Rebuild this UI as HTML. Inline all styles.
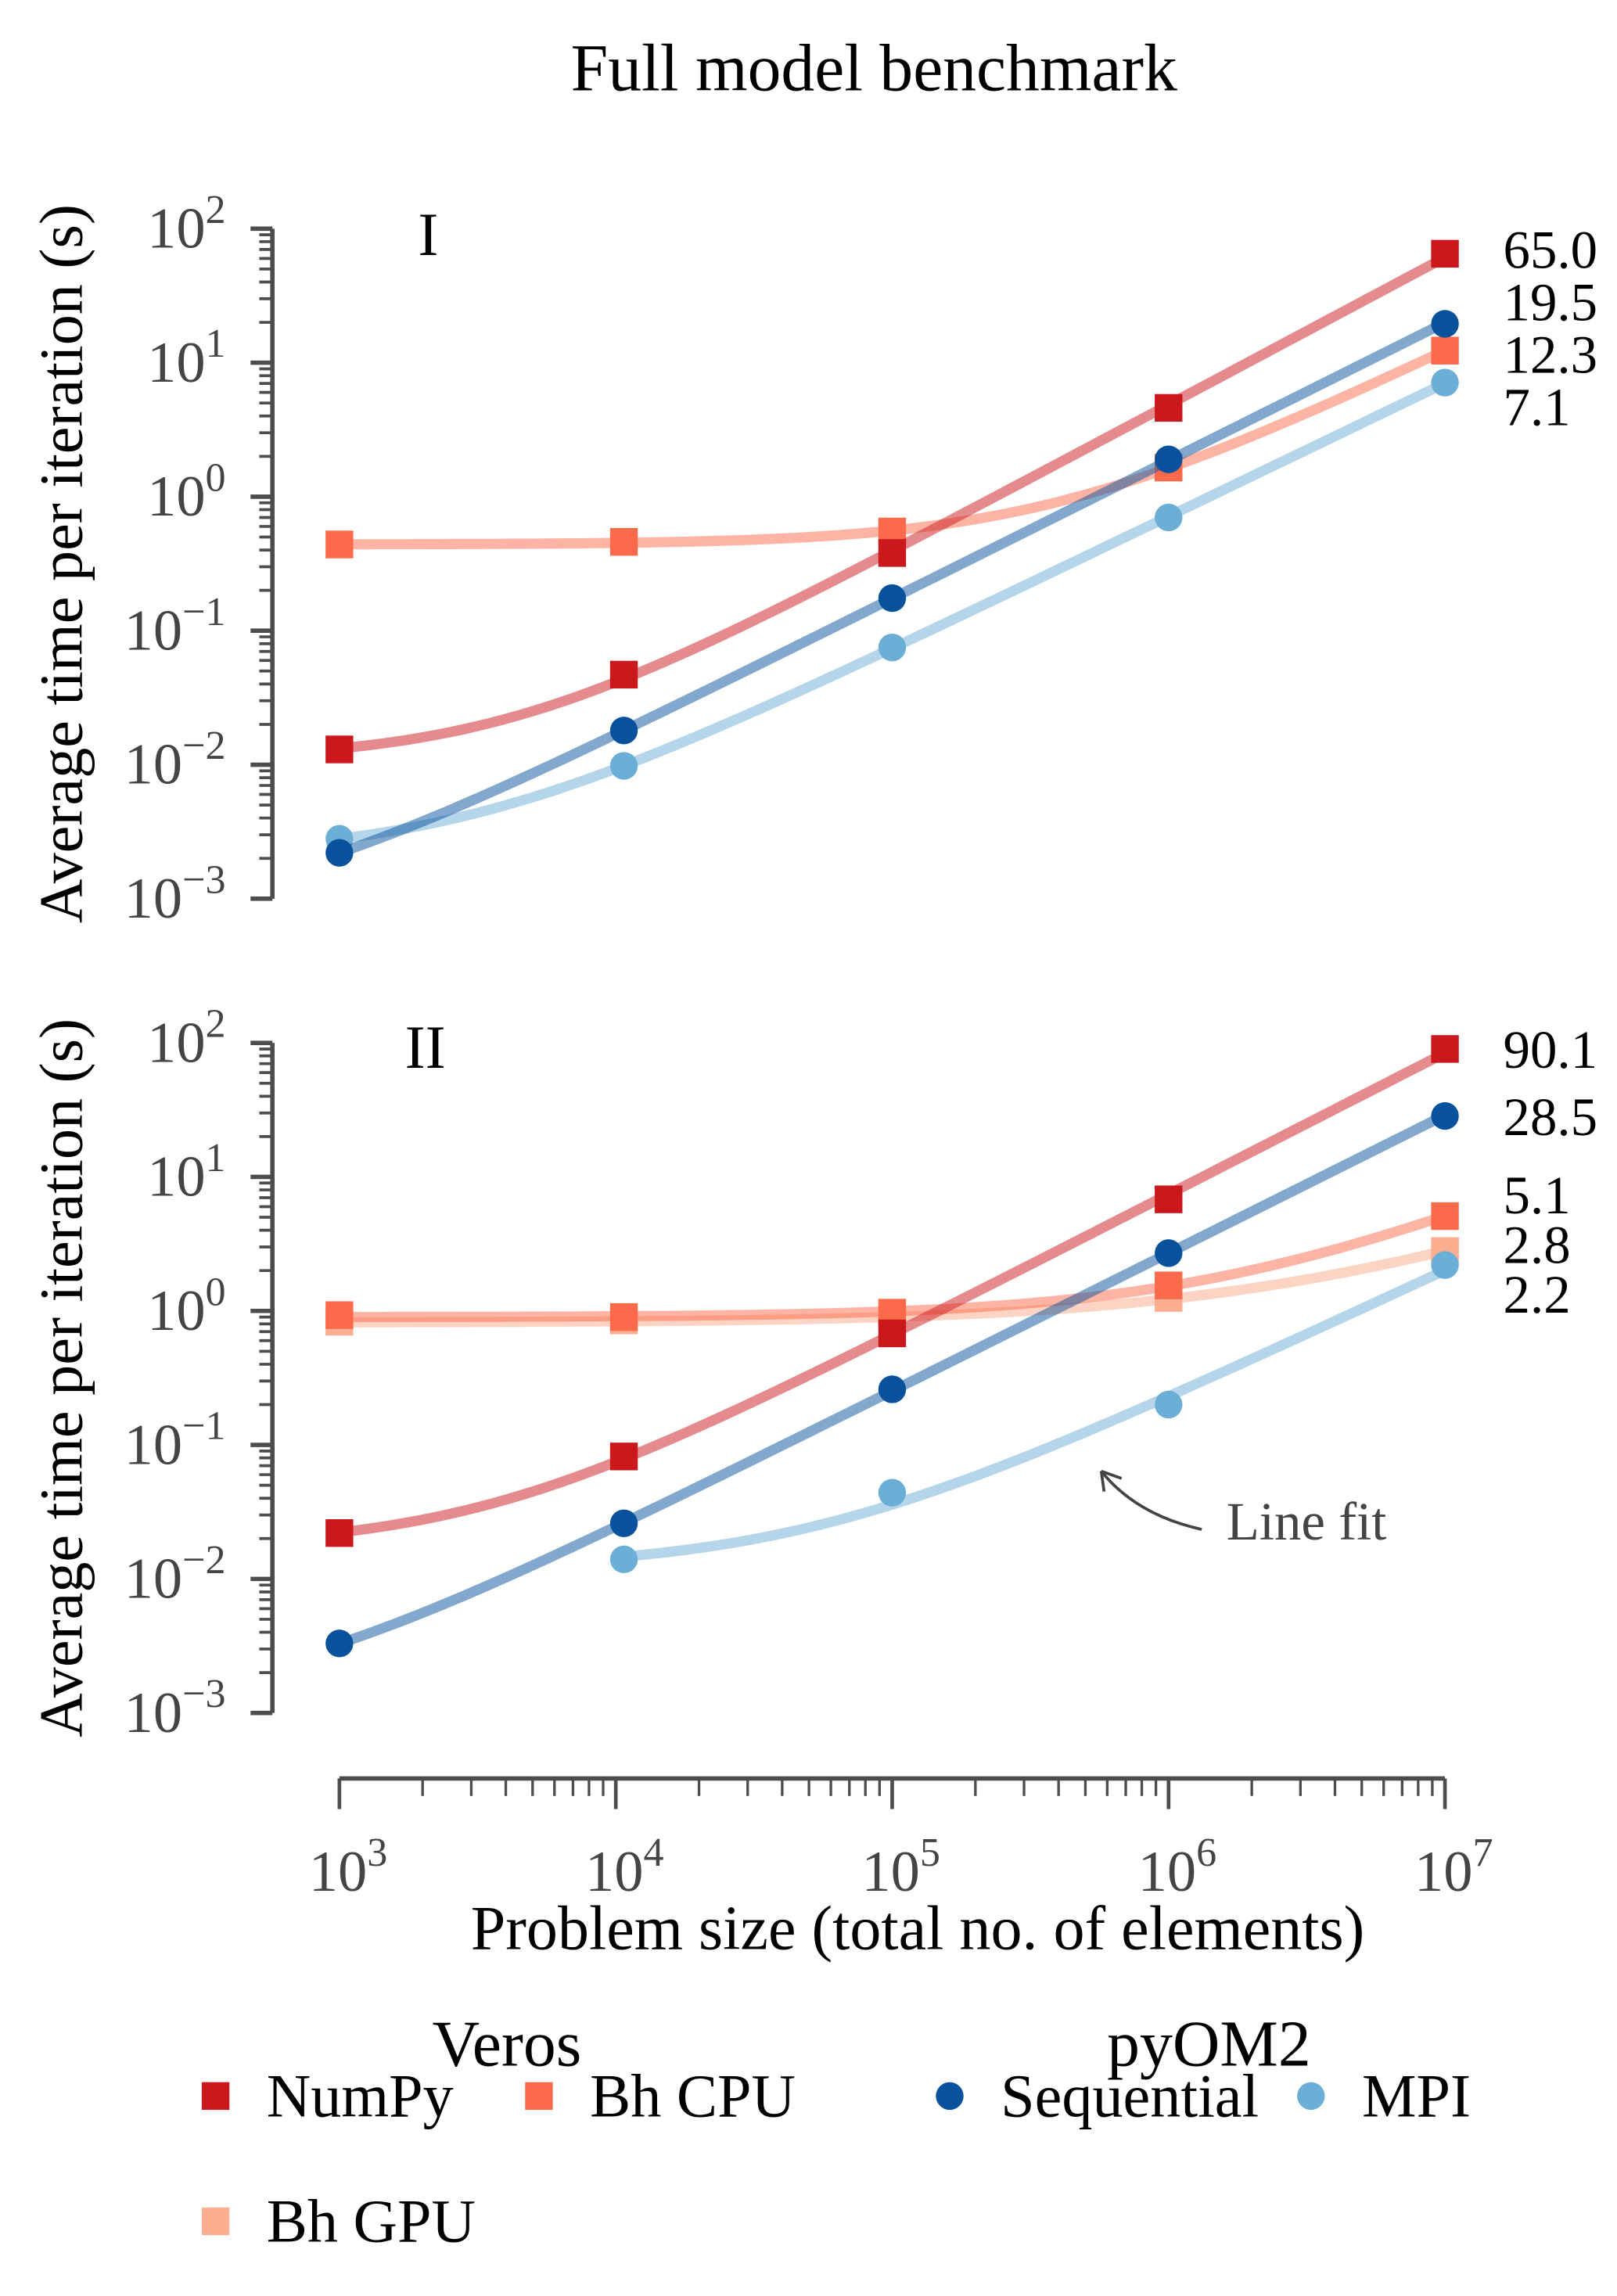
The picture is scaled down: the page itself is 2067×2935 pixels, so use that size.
<!DOCTYPE html>
<html><head><meta charset="utf-8"><style>
html,body{margin:0;padding:0;background:#fff}
svg{display:block}
text{font-family:"Liberation Serif",serif}
</style></head><body>
<svg id="chart" width="2067" height="2935" viewBox="0 0 1110.1 1576.3" xmlns="http://www.w3.org/2000/svg">
<text x="600" y="62" font-size="46" text-anchor="middle">Full model benchmark</text>
<g id="g"></g>
</svg>
<script>
const xs1 = [1000, 10700, 100000, 1000000, 10000000];
const numpy1 = [0.013, 0.047, 0.38, 4.6, 65.0];
const bhcpu1 = [0.44, 0.46, 0.55, 1.65, 12.3];
const seq1 = [0.0022, 0.018, 0.175, 1.9, 19.5];
const mpi1 = [0.0028, 0.0098, 0.075, 0.70, 7.1];
const numpy2 = [0.022, 0.082, 0.68, 6.8, 90.1];
const bhcpu2 = [0.93, 0.90, 0.97, 1.55, 5.1];
const bhgpu2 = [0.83, 0.85, 0.87, 1.25, 2.8];
const seq2 = [0.0033, 0.026, 0.26, 2.7, 28.5];
const mpiXs2 = [10700, 100000, 1000000, 10000000];
const mpi2 = [0.014, 0.044, 0.20, 2.2];
const xTicks = [3, 4, 5, 6, 7];
const yTicks = [2, 1, 0, -1, -2, -3];
const labels1 = ["65.0", "19.5", "12.3", "7.1"];
const labels2 = ["90.1", "28.5", "5.1", "2.8", "2.2"];

const NS = "http://www.w3.org/2000/svg";
const G = document.getElementById('g');
function mk(tag, attrs, parent, txt) {
  const e = document.createElementNS(NS, tag);
  for (const k in attrs) e.setAttribute(k, attrs[k]);
  if (txt !== undefined) e.textContent = txt;
  (parent || G).appendChild(e);
  return e;
}
const X0 = 233, X1 = 992;
function xs(v) { return X0 + (Math.log10(v) - 3) * (X1 - X0) / 4; }
function ysFor(top) { return v => top + (2 - Math.log10(v)) * 92; }

const C = { numpy: '#cb181d', bhcpu: '#fb6a4a', bhgpu: '#fcae91', seq: '#08519c', mpi: '#6baed6' };

// fit t = a + b*N^c, minimizing relative error; grid search on c
function fit(xv, yv) {
  let best = null;
  for (let c = 0.5; c <= 1.6; c += 0.005) {
    let s11 = 0, s12 = 0, s22 = 0, r1 = 0, r2 = 0;
    for (let i = 0; i < xv.length; i++) {
      const w = 1 / (yv[i] * yv[i]);
      const p = Math.pow(xv[i], c);
      s11 += w; s12 += w * p; s22 += w * p * p; r1 += w * yv[i]; r2 += w * p * yv[i];
    }
    const det = s11 * s22 - s12 * s12;
    let a = (r1 * s22 - r2 * s12) / det, b = (s11 * r2 - s12 * r1) / det;
    if (a < 0) { a = 0; b = r2 / s22; }
    let err = 0;
    for (let i = 0; i < xv.length; i++) { const e = (a + b * Math.pow(xv[i], c) - yv[i]) / yv[i]; err += e * e; }
    if (!best || err < best.err) best = { a, b, c, err };
  }
  return lx => best.a + best.b * Math.pow(Math.pow(10, lx), best.c);
}

function series(panel, ys, xv, yv, key, shape, name) {
  const f = fit(xv, yv);
  const lx0 = Math.log10(xv[0]) < 3.5 ? 3 : Math.log10(xv[0]);
  let d = '';
  for (let i = 0; i <= 80; i++) {
    const lx = lx0 + (7 - lx0) * i / 80;
    d += (i ? 'L' : 'M') + xs(Math.pow(10, lx)).toFixed(2) + ',' + ys(f(lx)).toFixed(2);
  }
  const ln = mk('path', {d: d, fill: 'none', stroke: C[key], 'stroke-width': 7, 'stroke-opacity': key === 'bhgpu' ? 0.55 : 0.5}, panel);
  
  
  xv.forEach((x, i) => {
    let m;
    if (shape === 's') m = mk('rect', {x: xs(x) - 9.5, y: ys(yv[i]) - 9.5, width: 19, height: 19, fill: C[key]}, panel);
    else m = mk('circle', {cx: xs(x), cy: ys(yv[i]), r: 9.5, fill: C[key]}, panel);
    
    
  });
}

function yAxis(panel, top) {
  const ys = ysFor(top);
  const ax = mk('line', {x1: 187, y1: top, x2: 187, y2: top + 460, stroke: '#4d4d4d', 'stroke-width': 3}, panel);
  
  
  yTicks.forEach(t => {
    const y = ys(Math.pow(10, t));
    mk('line', {x1: 172, y1: y, x2: 187, y2: y, stroke: '#4d4d4d', 'stroke-width': 3}, panel);
    if (t > -3) for (let k = 2; k < 10; k++) {
      const yy = ys(Math.pow(10, t - 1) * k);
      mk('line', {x1: 178, y1: yy, x2: 187, y2: yy, stroke: '#4d4d4d', 'stroke-width': 2}, panel);
    }
    const tx = mk('text', {x: 155, y: y + 13, 'font-size': 40, fill: '#444', 'text-anchor': 'end'}, panel);
    
    
    mk('tspan', {}, tx, '10');
    mk('tspan', {dy: -17, 'font-size': 28}, tx, t < 0 ? '\u2212' + (-t) : String(t));
  });
  const tt = mk('text', {x: 0, y: 0, 'font-size': 42, 'text-anchor': 'middle', transform: 'translate(56,' + (top + 230) + ') rotate(-90)'}, panel, 'Average time per iteration (s)');
  
  
  return ys;
}

function valueLabels(panel, ys, vals, labels, gap) {
  const pos = vals.map(v => ys(v));
  for (let it = 0; it < 60; it++) {
    for (let i = 1; i < pos.length; i++) {
      const ov = gap - (pos[i] - pos[i-1]);
      if (ov > 0) { pos[i-1] -= ov / 2; pos[i] += ov / 2; }
    }
  }
  labels.forEach((l, i) => {
    const t = mk('text', {x: 1032, y: pos[i] + 13, 'font-size': 37, fill: '#000'}, panel, l);
    
    
  });
}

// Panel I
const p1 = mk('g', {});


const ys1 = yAxis(p1, 157);
mk('text', {x: 287, y: 175, 'font-size': 42}, p1, 'I');
series(p1, ys1, xs1, bhcpu1, 'bhcpu', 's', 'bh-cpu');
series(p1, ys1, xs1, mpi1, 'mpi', 'c', 'mpi');
series(p1, ys1, xs1, seq1, 'seq', 'c', 'sequential');
series(p1, ys1, xs1, numpy1, 'numpy', 's', 'numpy');
valueLabels(p1, ys1, [numpy1[4], seq1[4], bhcpu1[4], mpi1[4]], labels1, 36);

// Panel II
const p2 = mk('g', {});


const ys2 = yAxis(p2, 716);
mk('text', {x: 278, y: 733, 'font-size': 42}, p2, 'II');
series(p2, ys2, xs1, bhgpu2, 'bhgpu', 's', 'bh-gpu');
series(p2, ys2, xs1, bhcpu2, 'bhcpu', 's', 'bh-cpu');
series(p2, ys2, mpiXs2, mpi2, 'mpi', 'c', 'mpi');
series(p2, ys2, xs1, seq2, 'seq', 'c', 'sequential');
series(p2, ys2, xs1, numpy2, 'numpy', 's', 'numpy');
valueLabels(p2, ys2, [numpy2[4], seq2[4], bhcpu2[4], bhgpu2[4], mpi2[3]], labels2, 34);

// annotation
const an = mk('g', {});


mk('text', {x: 842, y: 1057, 'font-size': 37, fill: '#444'}, an, 'Line fit');
mk('path', {d: 'M825,1050 Q780,1040 756,1010', fill: 'none', stroke: '#444', 'stroke-width': 2}, an);
mk('path', {d: 'M756,1010 L770,1015 M756,1010 L758,1024', fill: 'none', stroke: '#444', 'stroke-width': 2}, an);

// x axis
const xa = mk('g', {});


mk('line', {x1: X0, y1: 1221, x2: X1, y2: 1221, stroke: '#4d4d4d', 'stroke-width': 3}, xa);
xTicks.forEach(t => {
  const x = xs(Math.pow(10, t));
  mk('line', {x1: x, y1: 1221, x2: x, y2: 1242, stroke: '#4d4d4d', 'stroke-width': 2.5}, xa);
  if (t < 7) for (let k = 2; k < 10; k++) {
    const xx = xs(Math.pow(10, t) * k);
    mk('line', {x1: xx, y1: 1221, x2: xx, y2: 1233, stroke: '#4d4d4d', 'stroke-width': 1.8}, xa);
  }
  const tx = mk('text', {x: x - 21, y: 1298, 'font-size': 40, fill: '#444'}, xa);
  
  
  mk('tspan', {}, tx, '10');
  mk('tspan', {dy: -17, 'font-size': 28}, tx, String(t));
});
const xt = mk('text', {x: 630, y: 1338, 'font-size': 43, 'text-anchor': 'middle'}, xa, 'Problem size (total no. of elements)');


// legend
const lg = mk('g', {});


mk('text', {x: 348, y: 1418, 'font-size': 45, 'text-anchor': 'middle'}, lg, 'Veros');
mk('text', {x: 830, y: 1418, 'font-size': 45, 'text-anchor': 'middle'}, lg, 'pyOM2');
const entries = [
  ['numpy', 's', 148, 1439, 'NumPy'],
  ['bhcpu', 's', 370, 1439, 'Bh CPU'],
  ['bhgpu', 's', 148, 1525, 'Bh GPU'],
  ['seq', 'c', 652, 1439, 'Sequential'],
  ['mpi', 'c', 900, 1439, 'MPI']
];
entries.forEach(e => {
  const g = mk('g', {}, lg);
  
  
  if (e[1] === 's') mk('rect', {x: e[2] - 9.5, y: e[3] - 9.5, width: 19, height: 19, fill: C[e[0]]}, g);
  else mk('circle', {cx: e[2], cy: e[3], r: 9.5, fill: C[e[0]]}, g);
  mk('text', {x: e[2] + 35, y: e[3] + 14, 'font-size': 42}, g, e[4]);
});
</script>
</body></html>
